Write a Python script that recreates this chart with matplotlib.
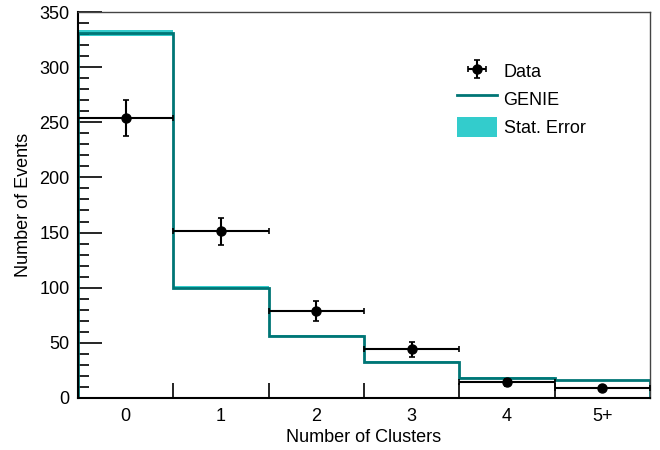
import matplotlib.pyplot as plt
import numpy as np

plt.rcParams['font.family'] = ['Liberation Sans', 'DejaVu Sans']

#Bin labels and edges
categories = ['0', '1', '2', '3', '4', '5+']
edges = np.arange(len(categories) + 1) - 0.5
centers = np.arange(len(categories))

#Data points with statistical errors
data = [254, 151, 79, 44, 14, 9]
data_err = [16, 12, 9, 7, 3, 2]

#GENIE prediction and its stat. error
genie = np.array([331, 100, 56, 32.5, 18, 16])
genie_err = np.array([3.0, 1.2, 1.0, 0.8, 0.6, 0.6])

FS = 13

fig = plt.figure(figsize=(6.6, 4.5), dpi=100)
ax = fig.add_axes([0.118, 0.116, 0.867, 0.857])

#Stat. error band
ax.stairs(genie + genie_err, edges, baseline=genie - genie_err, fill=True,
          color='#33cccc', lw=0, label='Stat. Error', zorder=1)
#GENIE histogram
ax.stairs(genie, edges, color='#007575', lw=2, label='GENIE', zorder=2)
#Data
ax.errorbar(centers, data, xerr=0.5, yerr=data_err, fmt='o', color='black',
            ms=6.5, lw=1.5, capsize=2, capthick=1.2, label='Data', zorder=3)

ax.set_xlim(-0.5, 5.5)
ax.set_ylim(0, 350)

#x ticks at bin edges, labels at bin centers
ax.set_xticks(edges[1:-1])
ax.set_xticklabels([])
ax.set_xticks(centers, minor=True)
ax.set_xticklabels(categories, minor=True)
ax.tick_params(axis='x', which='major', direction='in', length=11, width=1.2)
ax.tick_params(axis='x', which='minor', length=0, pad=7, labelsize=FS)

ax.set_yticks(np.arange(0, 351, 50))
ax.set_yticks(np.arange(0, 351, 10), minor=True)
ax.tick_params(axis='y', which='major', direction='in', length=17, width=1.2,
               labelsize=FS, pad=6)
ax.tick_params(axis='y', which='minor', direction='in', length=8, width=1.2)

for side in ['left', 'bottom']:
    ax.spines[side].set_linewidth(1.5)
for side in ['top', 'right']:
    ax.spines[side].set_linewidth(1)
    ax.spines[side].set_color('#444444')

ax.set_xlabel('Number of Clusters', fontsize=FS, labelpad=3)
ax.set_ylabel('Number of Events', fontsize=FS, labelpad=5)

handles, labels = ax.get_legend_handles_labels()
order = [labels.index(k) for k in ['Data', 'GENIE', 'Stat. Error']]
ax.legend([handles[i] for i in order], [labels[i] for i in order],
          loc='upper left', bbox_to_anchor=(0.635, 0.915), frameon=False,
          fontsize=FS, handlelength=2.2, handleheight=1.3, handletextpad=0.35,
          labelspacing=0.45)

fig.savefig('out.png', dpi=100)
